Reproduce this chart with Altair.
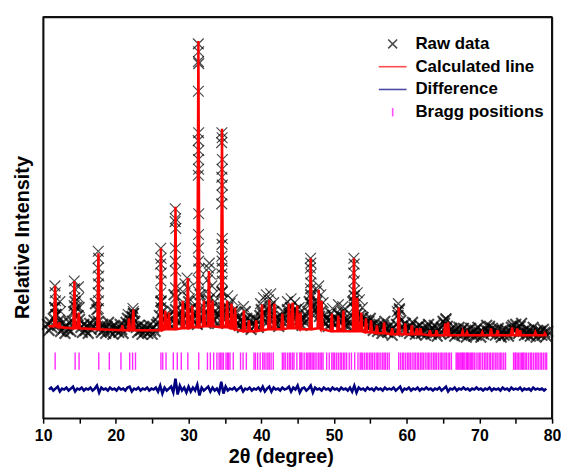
import altair as alt
import numpy as np
import pandas as pd

SERIES = ["Raw data", "Calculated line", "Difference", "Bragg positions"]
COLORS = ["#000000", "#ff0000", "#000080", "#ff00ff"]

# ---------- Raw data: scan background (2theta grid 10.6 .. 79.4, step 0.2) ----------
raw_bg_start, raw_bg_step = 10.6, 0.2
raw_bg_y = [
    95, 89, 97, 92, 101, 112, 105, 94, 99, 88,
    96, 91, 86, 94, 90, 97, 88, 98, 108, 118,
    112, 104, 100, 92, 87, 95, 89, 93, 86, 96,
    90, 94, 99, 116, 110, 98, 91, 87, 95, 90,
    86, 93, 97, 88, 92, 85, 94, 89, 91, 87,
    95, 90, 86, 93, 97, 101, 94, 99, 103, 106,
    98, 92, 87, 94, 89, 85, 93, 88, 91, 86,
    94, 89, 85, 92, 88, 95, 97, 104, 118, 108,
    99, 104, 97, 103, 95, 100, 108, 125, 110, 98,
    104, 97, 108, 101, 112, 96, 105, 118, 110, 100,
    106, 98, 103, 95, 110, 125, 102, 99, 107, 96,
    115, 120, 104, 112, 99, 108, 103, 96, 104, 110,
    128, 112, 100, 106, 112, 98, 104, 108, 100, 107,
    96, 102, 94, 99, 92, 97, 108, 101, 93, 99,
    90, 96, 101, 94, 99, 92, 104, 110, 106, 98,
    104, 97, 110, 113, 103, 108, 100, 95, 101, 93,
    99, 103, 108, 96, 101, 110, 106, 112, 102, 109,
    104, 110, 98, 106, 100, 94, 101, 97, 103, 108,
    118, 125, 112, 104, 110, 118, 112, 103, 108, 99,
    104, 96, 101, 93, 99, 106, 97, 102, 95, 100,
    105, 98, 103, 108, 100, 94, 99, 93, 97, 104,
    118, 124, 110, 106, 100, 104, 97, 102, 95, 99,
    93, 98, 101, 94, 89, 96, 92, 88, 95, 90,
    86, 94, 98, 91, 87, 93, 89, 84, 92, 88,
    95, 104, 110, 99, 93, 90, 96, 88, 92, 86,
    93, 97, 89, 85, 92, 88, 94, 86, 91, 87,
    84, 92, 95, 88, 85, 91, 94, 87, 83, 90,
    86, 92, 98, 96, 100, 93, 88, 85, 91, 87,
    83, 90, 86, 92, 88, 84, 91, 87, 82, 89,
    85, 91, 86, 83, 89, 84, 92, 87, 82, 88,
    85, 90, 94, 88, 93, 86, 91, 89, 84, 88,
    91, 85, 82, 89, 84, 90, 86, 83, 88, 92,
    94, 89, 95, 91, 86, 93, 96, 88, 84, 90,
    85, 89, 83, 87, 92, 86, 82, 89, 85, 88,
    84, 90, 87, 83, 88,
]

# ---------- Raw data: points on the peak flanks ----------
raw_pk_x = [
    11.62, 11.66, 11.70, 11.60, 11.72, 12.30, 12.40,
    14.28, 14.32, 14.36, 14.26, 14.40, 14.85, 14.90, 14.95,
    17.58, 17.62, 17.55, 17.65, 17.60, 17.57, 17.63, 17.60,
    21.70, 22.35, 22.45, 22.40, 22.30,
    26.18, 26.22, 26.15, 26.25, 26.20, 26.17, 26.23, 26.20,
    28.18, 28.22, 28.15, 28.25, 28.20, 28.17, 28.23, 28.20, 28.25,
    29.20, 29.50, 29.80, 29.95, 30.10, 30.40, 29.30,
    31.34, 31.38, 31.36, 31.40, 31.35, 31.39, 31.33, 31.41, 31.36, 31.38,
    31.34, 31.40, 31.37, 31.35, 31.39, 31.42, 31.33, 31.38, 31.36,
    32.60, 32.75, 32.85, 33.00, 33.20, 33.40, 32.40, 33.60,
    34.58, 34.62, 34.55, 34.65, 34.60, 34.57, 34.63, 34.60, 34.56,
    34.64, 34.60, 34.58, 34.62, 34.60, 34.57, 34.63, 34.60,
    35.40, 35.70, 36.00, 36.30, 37.55,
    39.90, 40.30, 40.70, 41.00, 41.30, 41.70,
    43.60, 44.10, 44.60, 45.20,
    46.78, 46.82, 46.75, 46.85, 46.80, 46.77, 46.83, 46.80,
    47.60, 47.90, 48.20, 48.50, 49.80, 50.60, 51.20,
    52.73, 52.78, 52.70, 52.80, 52.75, 52.72, 52.78,
    53.20, 53.50, 53.90, 58.85, 59.00, 58.70, 65.40,
]
raw_pk_y = [
    134, 127, 119, 112, 105, 118, 108,
    139, 131, 122, 114, 107, 133, 122, 112,
    169, 162, 152, 144, 136, 127, 119, 111,
    105, 111, 106, 108, 102,
    172, 162, 156, 147, 139, 127, 119, 112,
    212, 202, 199, 192, 172, 159, 149, 132, 122,
    128, 136, 142, 131, 121, 112, 117,
    379, 371, 361, 359, 331, 289, 281, 271, 262, 252,
    246, 207, 186, 172, 159, 151, 140, 128, 118,
    140, 152, 157, 146, 134, 125, 128, 118,
    289, 284, 279, 262, 252, 244, 236, 226, 217,
    182, 176, 164, 159, 152, 146, 139, 128,
    124, 116, 120, 110, 113,
    116, 122, 125, 120, 126, 117,
    118, 121, 117, 112,
    162, 157, 152, 146, 137, 131, 122, 116,
    129, 134, 125, 117, 111, 115, 113,
    162, 156, 147, 139, 129, 119, 112,
    127, 120, 112, 116, 111, 108, 101,
]

# ---------- Calculated profile: reflections (position, top, foot) ----------
calc_pos = [11.65, 12.2, 14.3, 14.9, 17.6, 20.9, 21.8, 22.4, 26.2, 26.8, 27.3,
            28.2, 29.2, 29.9, 30.5, 31.35, 32.1, 32.8, 33.3, 34.6, 35.3, 35.9,
            36.4, 37.6, 38.3, 39.3, 40.1, 41.1, 41.8, 42.9, 43.8, 44.3, 44.95,
            45.4, 46.8, 47.9, 48.3, 49.7, 50.6, 51.3, 52.75, 53.2, 53.75, 54.4,
            55.1, 55.9, 56.9, 58.0, 58.9, 59.8, 60.7, 61.4, 61.9, 63.2, 64.1,
            65.3, 65.7, 67.7, 68.3, 70.4, 71.6, 72.5, 74.5, 75.2, 75.6, 77.7, 79.0]
calc_top = [134, 97, 139, 107, 167, 94, 101, 110, 172, 109, 107,
            214, 119, 142, 114, 382, 119, 149, 119, 293, 119, 116,
            112, 109, 99, 99, 115, 120, 116, 106, 116, 117, 114,
            107, 162, 130, 119, 106, 104, 109, 162, 122, 107, 101,
            99, 94, 97, 91, 112, 96, 94, 91, 91, 89, 89,
            96, 97, 88, 87, 87, 91, 89, 92, 91, 89, 87, 86]
calc_foot = [93, 92, 91, 91, 90, 89, 89, 89, 89, 90, 90,
             90, 91, 91, 92, 92, 93, 93, 93, 92, 92, 91,
             90, 88, 88, 88, 89, 90, 90, 90, 91, 91, 91,
             90, 90, 91, 90, 88, 88, 88, 88, 88, 88, 87,
             87, 86, 86, 85, 85, 85, 85, 85, 85, 84, 84,
             84, 84, 84, 84, 84, 84, 84, 84, 84, 84, 84, 84]
calc_ends_x = [10.75, 79.3]
calc_ends_y = [93, 84]

# ---------- Difference curve (2theta grid 10.8 .. 79.2, step 0.3) ----------
diff_start, diff_step = 10.8, 0.3
diff_y = [
    29, 31, 28, 30, 32, 27, 30, 29, 31, 28,
    30, 32, 27, 30, 29, 31, 28, 30, 29, 31,
    28, 30, 33, 26, 31, 29, 30, 28, 31, 29,
    30, 28, 31, 29, 30, 28, 31, 32, 27, 30,
    29, 31, 28, 30, 29, 31, 28, 30, 29, 31,
    27, 33, 25, 31, 28, 30, 32, 26, 40, 24,
    33, 28, 31, 26, 32, 27, 31, 28, 34, 23,
    31, 28, 30, 32, 27, 31, 28, 30, 26, 37,
    25, 32, 28, 30, 29, 31, 28, 30, 32, 27,
    30, 29, 31, 28, 30, 29, 31, 28, 32, 27,
    30, 32, 27, 31, 29, 30, 28, 31, 29, 30,
    32, 27, 31, 29, 33, 26, 30, 31, 28, 30,
    33, 26, 31, 29, 30, 28, 31, 29, 30, 28,
    31, 29, 30, 28, 31, 29, 30, 28, 31, 27,
    33, 26, 31, 29, 30, 28, 31, 29, 30, 28,
    31, 29, 30, 28, 31, 29, 30, 29, 31, 28,
    30, 32, 27, 30, 29, 31, 28, 30, 29, 31,
    28, 30, 29, 31, 29, 30, 28, 30, 29, 31,
    28, 30, 32, 27, 30, 29, 31, 28, 30, 29,
    31, 29, 30, 28, 30, 29, 31, 29, 30, 28,
    30, 29, 31, 28, 30, 29, 30, 28, 31, 29,
    30, 28, 31, 29, 30, 29, 31, 28, 30, 29,
    30, 28, 31, 29, 30, 29, 30, 28, 30,
]

# ---------- Bragg reflection positions ----------
bragg_pos = [
    11.65, 14.4, 14.94, 17.65, 19.1, 20.7, 21.9, 22.3, 22.7,
    26.2, 26.45, 26.9, 27.9, 28.45, 29.0, 29.9, 31.4,
    32.6, 33.0, 33.45, 33.9, 34.2, 34.4, 34.6, 34.8, 35.15, 35.35, 35.5, 35.7, 36.15,
    37.15, 37.5, 37.95, 39.0, 39.2, 39.5, 39.85, 40.2, 40.4, 40.65, 40.9,
    41.1, 41.35, 41.65,
    42.9, 43.1, 43.3, 43.6, 43.85, 44.05, 44.3, 44.5, 44.9, 45.3, 45.45,
    45.6, 45.9, 46.2, 46.4, 46.6, 46.8, 47.0, 47.2, 47.4, 47.65, 47.9,
    48.1, 48.3, 48.5, 49.0, 49.35, 49.7, 49.9, 50.1, 50.35, 50.6, 50.85,
    51.05, 51.3, 51.5, 51.75, 52.1, 52.4, 52.85,
    53.3, 53.6, 53.75, 53.95, 54.2, 54.45, 54.65, 54.9, 55.1, 55.3, 55.55,
    55.8, 56.0, 56.2, 56.45, 56.7, 56.9, 57.1, 57.35, 57.6,
    58.9, 59.15, 59.4, 59.6, 59.85, 60.1, 60.3, 60.5, 60.75, 61.0, 61.2,
    61.45, 61.65, 61.9, 62.1, 62.3, 62.55, 62.8, 63.0, 63.2, 63.45, 63.7,
    63.9, 64.1, 64.35, 64.6, 64.8, 65.0, 65.25, 65.45, 65.7, 65.9, 66.15,
    66.8, 66.95, 67.1, 67.3, 67.45, 67.6, 67.7, 67.85, 68.0, 68.2, 68.35,
    68.45, 68.6, 68.8, 68.95, 69.1, 69.3, 69.55, 69.8, 70.0, 70.2, 70.45,
    70.7, 70.9, 71.1, 71.35, 71.55, 71.8, 72.0, 72.25, 72.45, 72.7, 72.9,
    73.1, 73.35, 73.6,
    74.7, 74.9, 75.0, 75.2, 75.4, 75.6, 75.8, 75.95, 76.1, 76.3, 76.5,
    76.75, 77.0, 77.2, 77.45, 77.7, 77.9, 78.1, 78.35, 78.55, 78.8, 79.05,
    79.25,
]
bragg_top, bragg_bottom = 66.5, 49.0

# plot frame = full extent of both scales
X_RANGE = [10, 80]
Y_RANGE = [0, 406]

# ---------- tables ----------
raw_x = np.round(raw_bg_start + raw_bg_step * np.arange(len(raw_bg_y)), 2)
bg_df = pd.DataFrame({"x": raw_x, "y": raw_bg_y})
bg_df["series"] = "Raw data"
pk_df = pd.DataFrame({"x": raw_pk_x, "y": raw_pk_y})
pk_df["series"] = "Raw data"

HW = 0.15
cx, cy = list(calc_ends_x), list(calc_ends_y)
for p, t, f in zip(calc_pos, calc_top, calc_foot):
    cx += [p - HW, p, p + HW]
    cy += [f, t, f]
calc_df = pd.DataFrame({"x": cx, "y": cy}).sort_values("x")
calc_df["series"] = "Calculated line"

diff_x = np.round(diff_start + diff_step * np.arange(len(diff_y)), 2)
diff_df = pd.DataFrame({"x": diff_x, "y": diff_y})
diff_df["series"] = "Difference"

bragg_df = pd.DataFrame({"x": bragg_pos})
bragg_df["y"] = bragg_top
bragg_df["lo"] = bragg_bottom
bragg_df["series"] = "Bragg positions"

# frame edges (top and right) built from the scale extents
edge_df = pd.DataFrame({
    "x": [X_RANGE[0], X_RANGE[1]], "x2": [X_RANGE[1], X_RANGE[1]],
    "y": [Y_RANGE[1], Y_RANGE[0]], "y2": [Y_RANGE[1], Y_RANGE[1]],
})

# ---------- scales / axes / legend ----------
CROSS = "M-0.32,-0.32L0.32,0.32M-0.32,0.32L0.32,-0.32"
HLINE = "M-1,0L1,0"
VTICK = "M0,-0.3L0,0.3"
xs = alt.Scale(domain=X_RANGE, nice=False, zero=False)
ys = alt.Scale(domain=Y_RANGE, nice=False, zero=False)
cscale = alt.Scale(domain=SERIES, range=COLORS)
sscale = alt.Scale(domain=SERIES, range=[CROSS, HLINE, HLINE, VTICK])
leg = alt.Legend(
    title=None, orient="none", legendX=338, legendY=12,
    labelFont="Liberation Sans", labelFontWeight="bold", labelFontSize=17,
    labelColor="#000000", symbolSize=784, symbolStrokeWidth=1.6,
    labelOffset=8, rowPadding=0, padding=0,
)

x_axis = alt.Axis(values=list(range(10, 81, 5)),
                  labelExpr="datum.value % 10 == 0 ? datum.label : ''",
                  labelFlush=False,
                  titleX=240, titleY=45, titleBaseline="alphabetic",
                  labelBaseline="alphabetic", labelPadding=18, grid=False)
y_axis = alt.Axis(labels=False, ticks=False, domain=True, grid=False,
                  titleX=-15, titleY=222, titleBaseline="alphabetic")
X = alt.X("x:Q", scale=xs, title="2θ (degree)", axis=x_axis)
Y = alt.Y("y:Q", scale=ys, title="Relative Intensity", axis=y_axis)

color = alt.Color("series:N", scale=cscale, legend=leg)
shape = alt.Shape("series:N", scale=sscale, legend=leg)

raw_bg = alt.Chart(bg_df).mark_point(filled=False, size=1150, strokeWidth=2.1).encode(
    x=X, y=Y, color=color, shape=shape)
raw_pk = alt.Chart(pk_df).mark_point(filled=False, size=1150, strokeWidth=1.2).encode(
    x=X, y=Y, color=color, shape=shape)
calc = alt.Chart(calc_df).mark_line(strokeWidth=2.5).encode(x=X, y=Y, color=color)
diff = alt.Chart(diff_df).mark_line(strokeWidth=2.6).encode(x=X, y=Y, color=color)
bragg = alt.Chart(bragg_df).mark_rule(strokeWidth=1.4, opacity=0.85).encode(
    x=X, y=Y, y2="lo:Q", color=color)
edges = alt.Chart(edge_df).mark_rule(color="#111111", strokeWidth=2.2).encode(
    x=X, x2="x2:Q", y=Y, y2="y2:Q")

chart = alt.layer(raw_bg, raw_pk, calc, diff, bragg, edges).properties(
    width=514, height=405,
    padding={"left": 4.5, "top": 5, "right": 0, "bottom": 0},
).configure_view(stroke="#111111", strokeWidth=1.6).configure_axis(
    labelFont="Liberation Sans", labelFontWeight="bold", labelFontSize=16,
    labelColor="#000000", titleFont="Liberation Sans", titleFontWeight="bold",
    titleFontSize=20, titleColor="#000000", tickColor="#000000", tickSize=5,
    tickWidth=1.5, domainColor="#111111", domainWidth=1.6,
)

chart.save("out.html", embed_options={"renderer": "svg", "actions": False})
